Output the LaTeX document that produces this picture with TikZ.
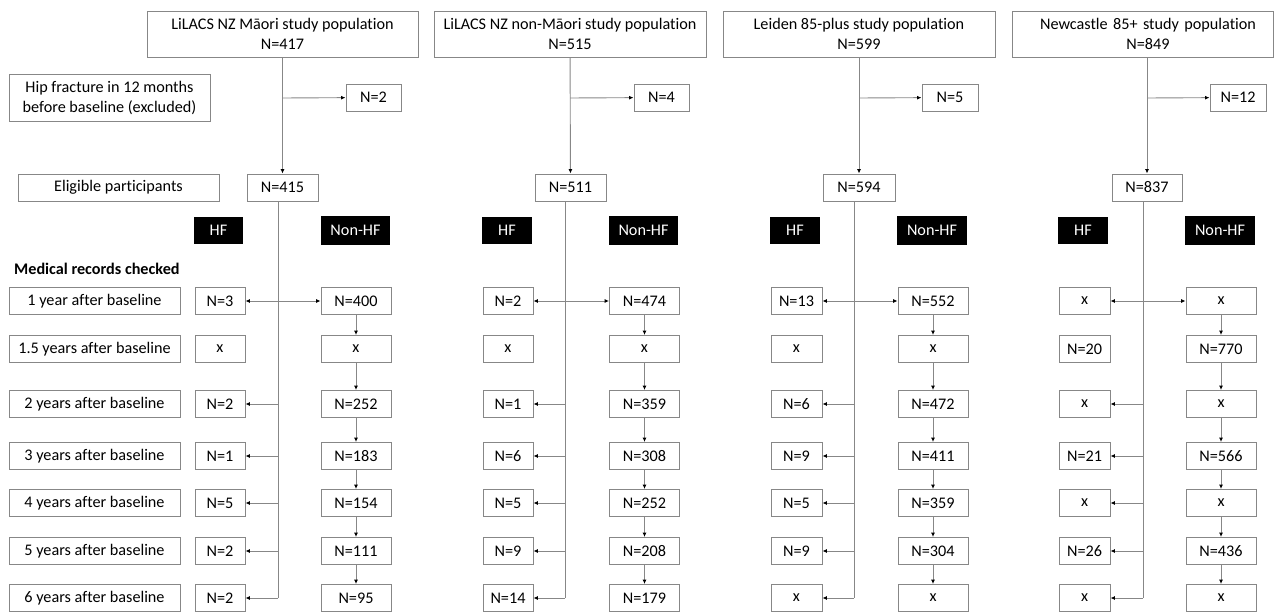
\documentclass[tikz,border=0pt]{standalone}
\usepackage{fontspec}
\setmainfont{Carlito}[Ligatures=NoCommon]
\usetikzlibrary{arrows.meta}
\definecolor{linegray}{RGB}{135,135,135}
\begin{document}
\begin{tikzpicture}[x=1pt,y=-1pt,
  box/.style={draw=linegray, line width=0.9pt, inner sep=0pt, minimum height=27, align=center, font=\fontsize{16.2}{20}\selectfont},
  title/.style={box, minimum height=46, font=\fontsize{16.2}{20}\selectfont},
  hdr/.style={fill=black, text=white, inner sep=0pt, minimum height=27, font=\fontsize{16.2}{20}\selectfont},
  line/.style={draw=linegray, line width=0.9pt},
  arr/.style={line, -{Latex[length=4.5pt,width=4pt,color=black]}},
  darr/.style={line, {Latex[length=4.5pt,width=4pt,color=black]}-{Latex[length=4.5pt,width=4pt,color=black]}}
]
\useasboundingbox (0,0) rectangle (1275,615);

% left labels
\node[box, minimum width=201, minimum height=47] (hip) at (109.5,97.5) {Hip fracture in 12 months\\before baseline (excluded)};
\node[box, minimum width=201] (elig) at (118.5,187.5) {Eligible participants};
\node[anchor=west, font=\fontsize{16.2}{20}\selectfont\bfseries, inner sep=0pt] (mrc) at (14,269) {Medical records checked};
\foreach \r/\y/\t in {a/301/1 year after baseline, b/349/1.5 years after baseline, c/404/2 years after baseline, d/456/3 years after baseline, e/503/4 years after baseline, f/551/5 years after baseline, g/598/6 years after baseline}
  \node[box, minimum width=171] (lab\r) at (94.5,\y) {\t};

% ===== column 1 =====
\node[title, minimum width=271] (t1) at (282.5,34) {LiLACS NZ Māori study population\\N=417};
\node[box, minimum width=55] (x1) at (373.5,97.5) {N=2};
\node[box, minimum width=71] (e1) at (282.5,187.5) {N=415};
\coordinate (v1) at (278,0);
\coordinate (u1) at (282.5,98);
\node[hdr, minimum width=49] (hb1) at (218.5,230) {HF};
\node[hdr, minimum width=69, minimum height=29] (nb1) at (355.5,230.5) {Non-HF};
\foreach \r/\y/\h/\n in {a/301/N=3/N=400, b/349/x/x, c/404/N=2/N=252, d/456/N=1/N=183, e/503/N=5/N=154, f/551/N=2/N=111, g/598/N=2/N=95} {
  \node[box, minimum width=50] (h1\r) at (220,\y) {\h};
  \node[box, minimum width=70] (n1\r) at (356,\y) {\n};
}
\draw[arr] (t1) -- (e1);
\draw[arr] (u1) -- (x1);
\draw[line] (e1.south -| v1) -- (v1 |- h1g);
\draw[darr] (h1a) -- (n1a);
\foreach \r in {c,d,e,f,g} \draw[arr] (v1 |- h1\r) -- (h1\r);
\foreach \a/\b in {a/b,b/c,c/d,d/e,e/f,f/g} \draw[arr] (n1\a) -- (n1\b);

% ===== column 2 =====
\node[title, minimum width=272] (t2) at (570,34) {LiLACS NZ non-Māori study population\\N=515};
\node[box, minimum width=55] (x2) at (661.5,97.5) {N=4};
\node[box, minimum width=71] (e2) at (570.5,187.5) {N=511};
\coordinate (v2) at (565,0);
\coordinate (u2) at (570,98);
\node[hdr, minimum width=50] (hb2) at (507,230) {HF};
\node[hdr, minimum width=69, minimum height=29] (nb2) at (643.5,230.5) {Non-HF};
\foreach \r/\y/\h/\n in {a/301/N=2/N=474, b/349/x/x, c/404/N=1/N=359, d/456/N=6/N=308, e/503/N=5/N=252, f/551/N=9/N=208, g/598/N=14/N=179} {
  \node[box, minimum width=50] (h2\r) at (508,\y) {\h};
  \node[box, minimum width=70] (n2\r) at (644.5,\y) {\n};
}
\draw[arr] (t2) -- (e2);
\draw[arr] (u2) -- (x2);
\draw[line] (e2.south -| v2) -- (v2 |- h2g);
\draw[darr] (h2a) -- (n2a);
\foreach \r in {c,d,e,f,g} \draw[arr] (v2 |- h2\r) -- (h2\r);
\foreach \a/\b in {a/b,b/c,c/d,d/e,e/f,f/g} \draw[arr] (n2\a) -- (n2\b);

% ===== column 3 =====
\node[title, minimum width=272] (t3) at (859,34) {Leiden 85-plus study population\\N=599};
\node[box, minimum width=56] (x3) at (950,97.5) {N=5};
\node[box, minimum width=72] (e3) at (859,187.5) {N=594};
\coordinate (v3) at (854,0);
\coordinate (u3) at (859,98);
\node[hdr, minimum width=50] (hb3) at (795,230) {HF};
\node[hdr, minimum width=70, minimum height=29] (nb3) at (932,230.5) {Non-HF};
\foreach \r/\y/\h/\n in {a/301/N=13/N=552, b/349/x/x, c/404/N=6/N=472, d/456/N=9/N=411, e/503/N=5/N=359, f/551/N=9/N=304, g/598/x/x} {
  \node[box, minimum width=51] (h3\r) at (796.5,\y) {\h};
  \node[box, minimum width=70] (n3\r) at (933,\y) {\n};
}
\draw[arr] (t3) -- (e3);
\draw[arr] (u3) -- (x3);
\draw[line] (e3.south -| v3) -- (v3 |- h3g);
\draw[darr] (h3a) -- (n3a);
\foreach \r in {c,d,e,f,g} \draw[arr] (v3 |- h3\r) -- (h3\r);
\foreach \a/\b in {a/b,b/c,c/d,d/e,e/f,f/g} \draw[arr] (n3\a) -- (n3\b);

% ===== column 4 =====
\node[title, minimum width=261, text width=261] (t4) at (1142.5,34) {\hspace*{11pt}Newcastle 85+ study population\\\hspace*{11pt}N=849};
\node[box, minimum width=56] (x4) at (1238,97.5) {N=12};
\node[box, minimum width=70] (e4) at (1147,187.5) {N=837};
\coordinate (v4) at (1143,0);
\coordinate (u4) at (1147,98);
\node[hdr, minimum width=50] (hb4) at (1083,230) {HF};
\node[hdr, minimum width=70, minimum height=29] (nb4) at (1220,230.5) {Non-HF};
\foreach \r/\y/\h/\n in {a/301/x/x, b/349/N=20/N=770, c/404/x/x, d/456/N=21/N=566, e/503/x/x, f/551/N=26/N=436, g/598/x/x} {
  \node[box, minimum width=51] (h4\r) at (1084.5,\y) {\h};
  \node[box, minimum width=70] (n4\r) at (1221,\y) {\n};
}
\draw[arr] (u4 |- t4.south) -- (e4);
\draw[arr] (u4) -- (x4);
\draw[line] (e4.south -| v4) -- (v4 |- h4g);
\draw[darr] (h4a) -- (n4a);
\foreach \r in {c,d,e,f,g} \draw[arr] (v4 |- h4\r) -- (h4\r);
\foreach \a/\b in {a/b,b/c,c/d,d/e,e/f,f/g} \draw[arr] (n4\a) -- (n4\b);
\end{tikzpicture}
\end{document}
